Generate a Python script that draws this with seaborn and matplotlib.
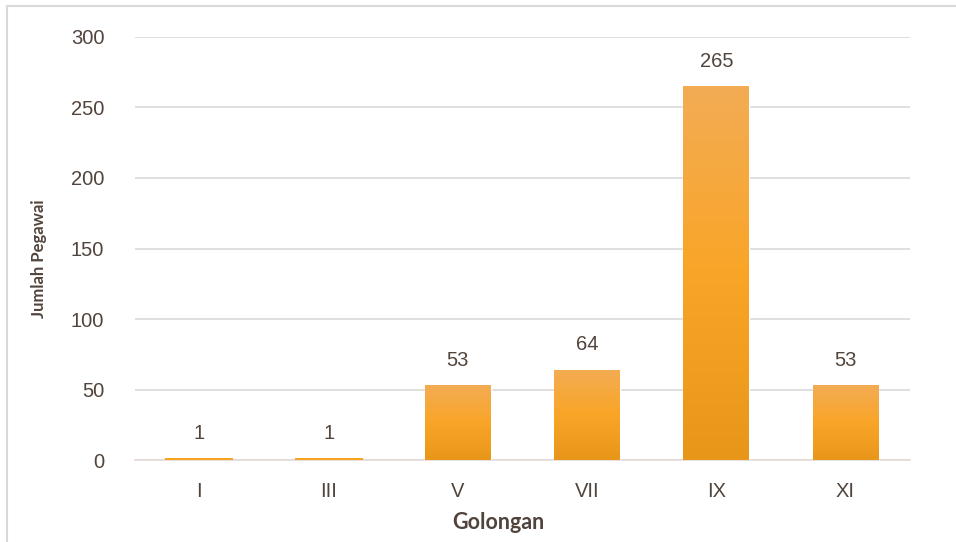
import numpy as np
import pandas as pd
import seaborn as sns
import matplotlib.pyplot as plt
from matplotlib.colors import LinearSegmentedColormap
from matplotlib.patches import Rectangle

# Data
golongan = ["I", "III", "V", "VII", "IX", "XI"]
jumlah = [1, 1, 53, 64, 265, 53]

df = pd.DataFrame({"Golongan": golongan, "Jumlah Pegawai": jumlah})

sns.set_style("white")
plt.rcParams["font.family"] = ["Liberation Sans", "DejaVu Sans"]

text_color = "#50443C"
fig = plt.figure(figsize=(9.56, 5.42), dpi=100)
ax = fig.add_axes([0.141, 0.151, 0.811, 0.781])

sns.barplot(data=df, x="Golongan", y="Jumlah Pegawai", color="#F9A527",
            width=0.51, ax=ax, zorder=3)

# gradient fill on each bar (lighter top, darker bottom)
cmap = LinearSegmentedColormap.from_list(
    "bar", ["#E8961A", "#F9A527", "#F3AC54"])
grad = np.linspace(0, 1, 256).reshape(-1, 1)
for p in ax.patches:
    x0, y0 = p.get_x(), p.get_y()
    w, h = p.get_width(), p.get_height()
    if h < 5:
        # very short bars: plain orange line
        p.set_facecolor("#F9A21C")
        p.set_edgecolor("#F9A21C")
        p.set_linewidth(1.4)
        p.set_zorder(6)
        continue
    im = ax.imshow(grad, cmap=cmap, aspect="auto", origin="lower",
                   extent=[x0, x0 + w, y0, y0 + h], zorder=4)
    im.set_clip_path(p)

ax.set_xlim(-0.5, len(golongan) - 0.5)
ax.set_ylim(0, 300)
ax.set_yticks(range(0, 301, 50))
ax.yaxis.grid(True, color="#D9D9D9", linewidth=1.2, zorder=0)
ax.set_axisbelow(True)
for s in ["top", "right", "left"]:
    ax.spines[s].set_visible(False)
ax.spines["bottom"].set_color("#E3DAD7")
ax.spines["bottom"].set_linewidth(1.2)
ax.spines["bottom"].set_zorder(2)
ax.tick_params(axis="both", length=0, labelsize=14.5, labelcolor=text_color)
ax.tick_params(axis="y", pad=22)
ax.tick_params(axis="x", pad=16)

for i, v in enumerate(jumlah):
    ax.text(i, v + 11, str(v), ha="center", va="bottom", fontsize=14.5,
            color=text_color)

ax.set_xlabel("Golongan", fontsize=15.5, fontweight="bold",
              color=text_color, family=["Lato", "DejaVu Sans"])
ax.set_ylabel("Jumlah Pegawai", fontsize=12, fontweight="bold",
              color=text_color, family=["Lato", "DejaVu Sans"])
ax.xaxis.set_label_coords((498 - 135) / 775, -0.123)
ax.yaxis.set_label_coords(-(135 - 47) / 775, (460 - 259) / 423)

# outer frame of the chart area
fig.patches.append(Rectangle((7 / 956, -0.1), 1.2, 1 - 6 / 542 + 0.1,
                             transform=fig.transFigure, fill=False,
                             edgecolor="#D9D9D9", linewidth=1.5))

fig.savefig("out.png", dpi=100)
